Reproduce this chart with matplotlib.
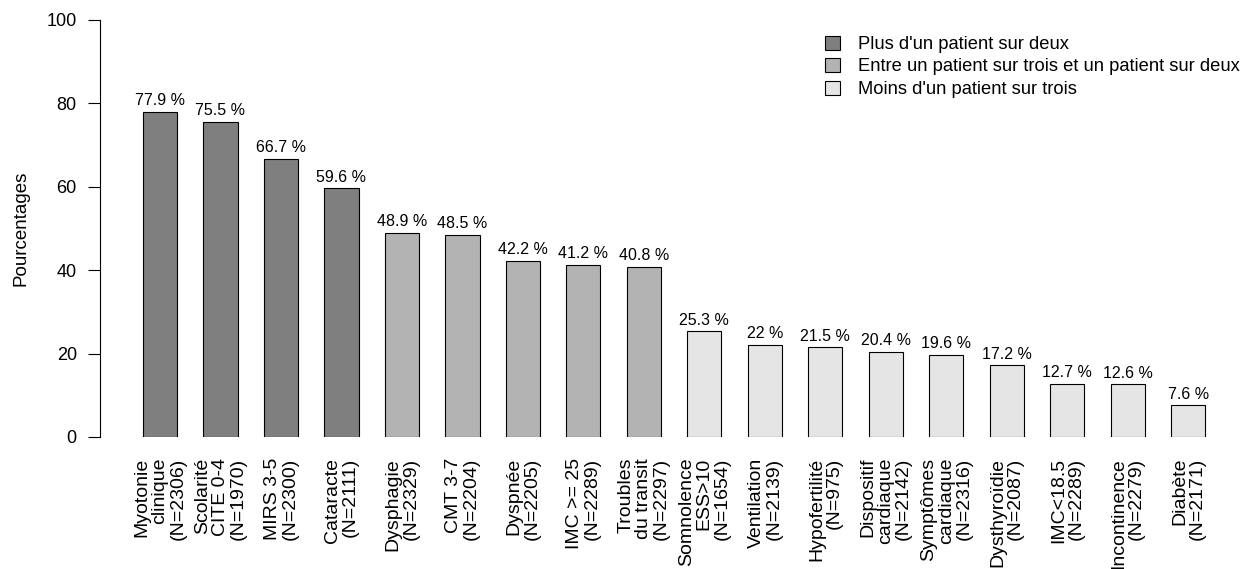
import matplotlib.pyplot as plt
import numpy as np

plt.rcParams['font.family'] = ['Liberation Sans', 'DejaVu Sans']

labels = ["Myotonie\nclinique\n(N=2306)", "Scolarité\nCITE 0-4\n(N=1970)", "MIRS 3-5\n(N=2300)",
          "Cataracte\n(N=2111)", "Dysphagie\n(N=2329)", "CMT 3-7\n(N=2204)", "Dyspnée\n(N=2205)",
          "IMC >= 25\n(N=2289)", "Troubles\ndu transit\n(N=2297)", "Somnolence\nESS>10\n(N=1654)",
          "Ventilation\n(N=2139)", "Hypofertilité\n(N=975)", "Dispositif\ncardiaque\n(N=2142)",
          "Symptômes\ncardiaque\n(N=2316)", "Dysthyroïdie\n(N=2087)", "IMC<18.5\n(N=2289)",
          "Incontinence\n(N=2279)", "Diabète\n(N=2171)"]
values = [77.9, 75.5, 66.7, 59.6, 48.9, 48.5, 42.2, 41.2, 40.8, 25.3, 22, 21.5, 20.4, 19.6, 17.2, 12.7, 12.6, 7.6]
value_text = ["77.9 %", "75.5 %", "66.7 %", "59.6 %", "48.9 %", "48.5 %", "42.2 %", "41.2 %", "40.8 %",
              "25.3 %", "22 %", "21.5 %", "20.4 %", "19.6 %", "17.2 %", "12.7 %", "12.6 %", "7.6 %"]
groups = [0] * 4 + [1] * 5 + [2] * 9
group_names = ["Plus d'un patient sur deux", "Entre un patient sur trois et un patient sur deux",
               "Moins d'un patient sur trois"]
group_colors = ["#7f7f7f", "#b3b3b3", "#e5e5e5"]

fig = plt.figure(figsize=(12.49, 5.69), dpi=100)
ax = fig.add_axes([0.080, 0.232, 0.914, 0.733])

x = np.arange(len(values))
cols = [group_colors[g] for g in groups]
ax.bar(x, values, width=0.565, color=cols, edgecolor='black', linewidth=0.8)

for xi, v, t in zip(x, values, value_text):
    ax.text(xi, v + 0.9, t, ha='center', va='bottom', fontsize=11.5)

# x range so that the y axis sits at pixel 100 and bars at 60.4px spacing
ax.set_xlim(-0.993, 17.88)
ax.set_ylim(0, 100)
ax.set_yticks([0, 20, 40, 60, 80, 100])
ax.tick_params(axis='y', labelsize=13, length=8.6, width=0.8, direction='out', pad=8)
ax.set_xticks(x)
ax.set_xticklabels(labels, rotation=90, ha='center', va='top', fontsize=14, linespacing=1.06)
ax.tick_params(axis='x', length=0, pad=15)
for lab in ax.get_xticklabels():
    lab.set_multialignment('right')

for s in ['top', 'right', 'bottom']:
    ax.spines[s].set_visible(False)
ax.spines['left'].set_linewidth(0.8)
ax.set_ylabel('Pourcentages', fontsize=13.5, labelpad=12)

handles = [plt.Rectangle((0, 0), 1, 1, facecolor=c, edgecolor='black', linewidth=0.8) for c in group_colors]
fig.legend(handles, group_names, loc='upper left', bbox_to_anchor=(0.6575, 0.944), frameon=False,
           fontsize=13.2, handlelength=0.8, handleheight=0.8, handletextpad=1.0, labelspacing=0.28,
           borderaxespad=0, borderpad=0.2)

fig.savefig('out.png', dpi=100)
